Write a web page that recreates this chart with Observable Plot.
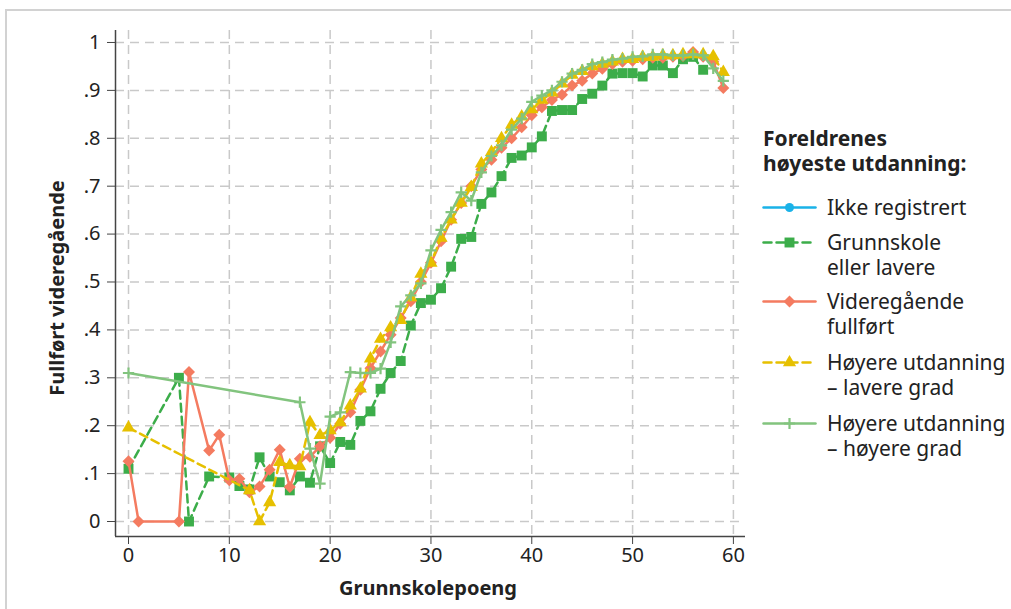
<!DOCTYPE html>
<html><head><meta charset="utf-8">
<script src="https://cdn.jsdelivr.net/npm/d3@7"></script>
<script src="https://cdn.jsdelivr.net/npm/@observablehq/plot@0.6"></script>
<style>
body{margin:0;background:#fff;font-family:"Noto Sans",sans-serif;}
#wrap{position:relative;width:1011px;height:609px;overflow:hidden;background:#fff;}
#frame{position:absolute;left:5px;top:9px;width:1100px;height:700px;border-left:2px solid #d2d2d2;border-top:2px solid #d2d2d2;}
#chart{position:absolute;left:0;top:0;}
.ttl{position:absolute;font-weight:700;font-size:20px;color:#222;white-space:nowrap;line-height:24px;}
#legend{position:absolute;left:0;top:0;width:1011px;height:609px;color:#222;font-size:21px;}
.lg{position:absolute;white-space:nowrap;line-height:24px;height:24px;}
</style></head><body>
<div id="wrap"><div id="frame"></div><div id="chart"></div>
<div class="ttl" id="xt" style="left:428px;top:576px;transform:translateX(-50%);"></div>
<div class="ttl" id="yt" style="left:57px;top:288px;transform:translate(-50%,-50%) rotate(-90deg);"></div>
<div id="legend"></div></div>
<script>
const xTicks = [0,10,20,30,40,50,60];
const yTicks = [0,0.1,0.2,0.3,0.4,0.5,0.6,0.7,0.8,0.9,1];
const yTickLabels = ["0",".1",".2",".3",".4",".5",".6",".7",".8",".9","1"];
const xLabel = "Grunnskolepoeng";
const yLabel = "Fullført videregående";
const legendTitle = ["Foreldrenes","høyeste utdanning:"];
const seriesNames = [["Ikke registrert"],["Grunnskole","eller lavere"],["Videregående","fullført"],["Høyere utdanning","– lavere grad"],["Høyere utdanning","– høyere grad"]];
const seriesColors = ["#1ab2e8","#3cad4a","#f47b60","#e6c000","#82c47e"];

const ikkeX = [];
const ikkeY = [];
const grunnX = [0,5,6,8,10,11,12,13,14,15,16,17,18,19,20,21,22,23,24,25,26,27,28,29,30,31,32,33,34,35,36,37,38,39,40,41,42,43,44,45,46,47,48,49,50,51,52,53,54,55,56,57];
const grunnY = [0.11,0.30,0,0.094,0.092,0.074,0.067,0.134,0.094,0.082,0.065,0.094,0.081,0.157,0.122,0.166,0.16,0.21,0.23,0.277,0.31,0.335,0.409,0.456,0.463,0.487,0.532,0.59,0.594,0.663,0.687,0.721,0.759,0.764,0.781,0.804,0.857,0.859,0.859,0.882,0.893,0.91,0.935,0.936,0.936,0.929,0.952,0.952,0.936,0.965,0.97,0.943];
const videX = [0,1,5,6,8,9,10,11,12,13,14,15,16,17,18,19,20,21,22,23,24,25,26,27,28,29,30,31,32,33,34,35,36,37,38,39,40,41,42,43,44,45,46,47,48,49,50,51,52,53,54,55,56,57,58,59];
const videY = [0.126,0,0,0.312,0.148,0.181,0.086,0.089,0.061,0.073,0.108,0.15,0.072,0.131,0.135,0.157,0.175,0.204,0.228,0.275,0.32,0.355,0.39,0.425,0.46,0.5,0.54,0.585,0.63,0.665,0.7,0.735,0.755,0.78,0.8,0.823,0.848,0.865,0.88,0.891,0.91,0.92,0.935,0.945,0.955,0.96,0.962,0.965,0.968,0.968,0.97,0.972,0.98,0.97,0.96,0.905];
const lavX = [0,12,13,14,15,16,17,18,19,20,21,22,23,24,25,26,27,28,29,30,31,32,33,34,35,36,37,38,39,40,41,42,43,44,45,46,47,48,49,50,51,52,53,54,55,56,57,58,59];
const lavY = [0.196,0.065,0,0.04,0.124,0.117,0.115,0.207,0.18,0.19,0.207,0.242,0.277,0.34,0.381,0.405,0.42,0.468,0.517,0.54,0.592,0.63,0.665,0.698,0.747,0.771,0.80,0.828,0.845,0.86,0.88,0.895,0.914,0.932,0.94,0.95,0.955,0.96,0.965,0.965,0.97,0.97,0.973,0.973,0.975,0.975,0.975,0.971,0.938];
const hoyX = [0,17,18,19,20,21,22,23,24,25,26,27,28,29,30,31,32,33,34,35,36,37,38,39,40,41,42,43,44,45,46,47,48,49,50,51,52,53,54,55,56,57,58,59];
const hoyY = [0.31,0.249,0.152,0.079,0.219,0.228,0.312,0.31,0.31,0.319,0.374,0.449,0.472,0.497,0.566,0.609,0.646,0.687,0.67,0.729,0.763,0.785,0.818,0.841,0.876,0.889,0.90,0.918,0.935,0.943,0.955,0.959,0.964,0.966,0.97,0.971,0.975,0.975,0.973,0.973,0.975,0.973,0.946,0.92];

const styles = [
  {symbol:"circle", r:4.5, dash:null, fill:true},
  {symbol:"square", r:5.6, dash:"8,5", fill:true},
  {symbol:"diamond2", r:5.4, dash:null, fill:true},
  {symbol:"triangle", r:4.9, dash:"8,5", fill:true},
  {symbol:"plus", r:3.7, dash:null, fill:false}
];
const xsAll = [ikkeX, grunnX, videX, lavX, hoyX];
const ysAll = [ikkeY, grunnY, videY, lavY, hoyY];

const xDomain = [-1.29, 61.2];
const yDomain = [-0.0313, 1.025];
const marks = [
  Plot.gridX(xTicks, {stroke:"#c9c9c9", strokeOpacity:1, strokeWidth:1.5, strokeDasharray:"9,6"}),
  Plot.gridY(yTicks, {stroke:"#c9c9c9", strokeOpacity:1, strokeWidth:1.5, strokeDasharray:"9,6"}),
];
xsAll.forEach((xs, i) => {
  const rows = xs.map((x, j) => ({x, y: ysAll[i][j]}));
  const st = styles[i];
  marks.push(Plot.line(rows, {x:"x", y:"y", stroke:seriesColors[i], strokeWidth:2.5, strokeDasharray:st.dash, curve:"linear"}));
  if (st.fill) marks.push(Plot.dot(rows, {x:"x", y:"y", symbol:st.symbol, r:st.r, fill:seriesColors[i], stroke:"none"}));
  else marks.push(Plot.dot(rows, {x:"x", y:"y", symbol:st.symbol, r:st.r, stroke:seriesColors[i], strokeWidth:2.2, fill:"none"}));
});
marks.push(
  Plot.ruleX([xDomain[0]], {stroke:"#444", strokeWidth:1.5}),
  Plot.ruleY([yDomain[0]], {stroke:"#444", strokeWidth:1.5}),
  Plot.axisX(xTicks, {tickSize:8, tickPadding:3, label:null, stroke:"#444", fill:"#222"}),
  Plot.axisY(yTicks, {tickSize:8, tickPadding:7, label:null, stroke:"#444", fill:"#222", tickFormat:(d)=>yTickLabels[yTicks.indexOf(d)]})
);

const chart = Plot.plot({
  width:1011, height:609,
  marginLeft:115, marginRight:266, marginTop:30, marginBottom:73,
  x:{domain:xDomain}, y:{domain:yDomain},
  style:{fontFamily:"Noto Sans", fontSize:"20px", background:"transparent", color:"#222", overflow:"visible"},
  marks
});
document.getElementById("chart").appendChild(chart);
document.getElementById("xt").textContent = xLabel;
document.getElementById("yt").textContent = yLabel;

// legend
const lg = document.getElementById("legend");
function addLine(txt, left, top, bold, size) {
  const d = document.createElement("div");
  d.className = "lg"; d.style.left = left + "px"; d.style.top = top + "px";
  if (bold) d.style.fontWeight = "700";
  if (size) d.style.fontSize = size + "px";
  d.textContent = txt;
  lg.appendChild(d);
}
legendTitle.forEach((s, k) => addLine(s, 763, 126 + k * 25, true, 21));
const entryY = [207, 242, 301, 362, 423];
seriesNames.forEach((nm, i) => {
  const st = styles[i];
  const sw = Plot.plot({
    width:52, height:24, margin:0,
    x:{domain:[0,1], axis:null}, y:{domain:[0,1], axis:null},
    style:{background:"transparent", overflow:"visible"},
    marks:[
      Plot.line([{x:0,y:0.5},{x:1,y:0.5}], {x:"x", y:"y", stroke:seriesColors[i], strokeWidth:2.5, strokeDasharray:st.dash}),
      st.fill ? Plot.dot([{x:0.5,y:0.5}], {x:"x", y:"y", symbol:st.symbol, r:st.r, fill:seriesColors[i]})
              : Plot.dot([{x:0.5,y:0.5}], {x:"x", y:"y", symbol:st.symbol, r:st.r, stroke:seriesColors[i], strokeWidth:2.2})
    ]
  });
  sw.style.position = "absolute"; sw.style.left = "763px"; sw.style.top = (entryY[i]-12) + "px"; sw.style.maxWidth = "none";
  lg.appendChild(sw);
  nm.forEach((s, k) => addLine(s, 827, entryY[i] - 12 + k * 25, false));
});
</script></body></html>
